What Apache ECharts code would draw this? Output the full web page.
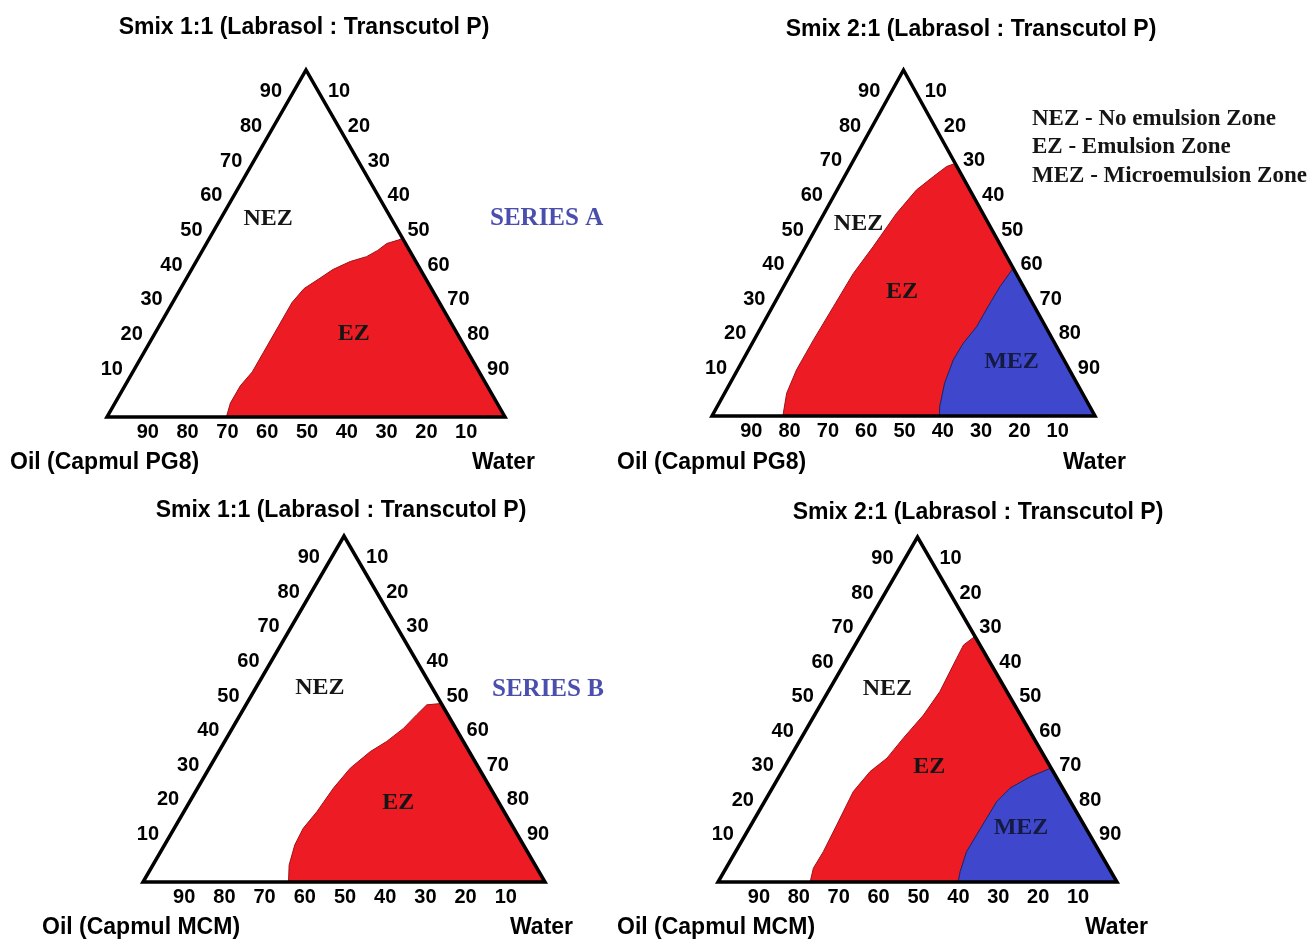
<!DOCTYPE html>
<html>
<head>
<meta charset="utf-8">
<script src="https://cdn.jsdelivr.net/npm/echarts@6/dist/echarts.min.js"></script>
<style>
  html, body { margin: 0; padding: 0; background: #fff; }
  #chart { width: 1311px; height: 940px; }
</style>
</head>
<body>
<div id="chart"></div>
<script>
// every ternary point is [oil, water, smix] in %
const tickValues = [10, 20, 30, 40, 50, 60, 70, 80, 90];
const panelTitles = ['Smix 1:1 (Labrasol : Transcutol P)', 'Smix 2:1 (Labrasol : Transcutol P)',
  'Smix 1:1 (Labrasol : Transcutol P)', 'Smix 2:1 (Labrasol : Transcutol P)'];
const oilNames = ['Oil (Capmul PG8)', 'Oil (Capmul PG8)', 'Oil (Capmul MCM)', 'Oil (Capmul MCM)'];
const seriesNames = ['SERIES A', 'SERIES B'];
const legendLines = ['NEZ - No emulsion Zone', 'EZ - Emulsion Zone', 'MEZ - Microemulsion Zone'];

// NEZ / EZ border, from the oil-water base up to the smix-water side
const ezEdgeA1 = [[70, 30, 0], [67, 29, 4], [62, 29, 9], [57, 30, 13], [51.5, 30, 18.5], [43, 30, 27],
  [37, 30, 33], [32, 31, 37], [26.5, 33.5, 40], [22, 35.5, 42.5], [16.5, 38.7, 44.8], [11.7, 42.1, 46.2],
  [8, 44, 48], [4.7, 45.3, 50], [1.3, 47.7, 51], [0, 48.5, 51.5]];
const ezEdgeA2 = [[81.5, 18.5, 0], [77.2, 16.2, 6.6], [71.3, 15.4, 13.3], [62.5, 15.5, 22], [52.5, 15.9, 31.6],
  [42.5, 16.3, 41.2], [33.5, 17.6, 48.9], [22.5, 18.9, 58.6], [14, 20.7, 65.3], [7.6, 23.2, 69.2],
  [2.7, 25.2, 72.1], [0, 27, 73]];
const ezEdgeB1 = [[63.8, 36.2, 0], [61.2, 33.9, 4.9], [56.9, 32.4, 10.7], [52.4, 32.1, 15.5], [46.6, 33.1, 20.3],
  [39.1, 33.8, 27.1], [32, 35.1, 32.9], [24.6, 37.7, 37.7], [19.1, 40.3, 40.6], [13, 42.6, 44.4],
  [7.8, 43.9, 48.3], [3.8, 45, 51.2], [0, 48.4, 51.6]];
const ezEdgeB2 = [[76.9, 23.1, 0], [74.1, 21.9, 4], [69.2, 22, 8.8], [62, 21.5, 16.5], [53, 20.8, 26.2],
  [45.9, 22.1, 32], [39.7, 24.4, 35.9], [32.7, 25.6, 41.7], [24.3, 27.3, 48.4], [16.8, 28, 55.2],
  [7.8, 27.4, 64.8], [4.1, 27.2, 68.7], [0, 28.8, 71.2]];

// EZ / MEZ border, from the smix-water side down to the base
const mezEdgeA2 = [[0, 57.3, 42.7], [6.1, 56.5, 37.4], [11.1, 56.3, 32.6], [18, 56.2, 25.8], [23.9, 55.1, 21],
  [28.9, 54.9, 16.2], [34.5, 56, 9.5], [39.2, 58.1, 2.7], [40.6, 59.4, 0]];
const mezEdgeB2 = [[0, 67, 33], [6.5, 63, 30.5], [13.2, 59.6, 27.2], [18.5, 58.2, 23.3], [23.4, 58.1, 18.5],
  [28.4, 58, 13.6], [33.3, 57.9, 8.8], [37.8, 59.2, 3], [39.8, 60.2, 0]];

// where the zone names sit
const zonesA1 = [['NEZ', [31, 12, 57]], ['EZ', [26, 50, 24]]];
const zonesA2 = [['NEZ', [34, 10.5, 55.5]], ['EZ', [32.5, 31.7, 35.8]], ['MEZ', [14, 70.4, 15.6]]];
const zonesB1 = [['NEZ', [28, 16, 56]], ['EZ', [25, 52, 23]]];
const zonesB2 = [['NEZ', [29.6, 14.5, 55.9]], ['EZ', [30.4, 36.3, 33.3]], ['MEZ', [16.2, 68.1, 15.7]]];

const WATER = [0, 100, 0];
const TRIANGLE = [[100, 0, 0], [0, 100, 0], [0, 0, 100]];
const RED = '#ed1c24', BLUE = '#3f48cc';
const SANS = '"Liberation Sans", Arial, sans-serif';
const SERIF = '"Liberation Serif", "Times New Roman", serif';

// ternary -> x/y of the triangle (oil corner at 0,0, water at 100,0, smix at 50,100)
function toXY(p) {
  return [p[1] + p[2] / 2, p[2]];
}

const panels = [
  {
    grid: { left: 107, top: 70, width: 398, height: 347 },
    regions: [{ pts: ezEdgeA1.concat([WATER]), fill: RED, stroke: '#9e1218' }],
    zones: zonesA1
  },
  {
    grid: { left: 712, top: 70, width: 383, height: 346 },
    regions: [
      { pts: ezEdgeA2.concat(mezEdgeA2), fill: RED, stroke: '#9e1218' },
      { pts: mezEdgeA2.concat([WATER]), fill: BLUE, stroke: '#1d2470' }
    ],
    zones: zonesA2
  },
  {
    grid: { left: 143, top: 536, width: 402, height: 346 },
    regions: [{ pts: ezEdgeB1.concat([WATER]), fill: RED, stroke: '#9e1218' }],
    zones: zonesB1
  },
  {
    grid: { left: 718, top: 537, width: 399, height: 345 },
    regions: [
      { pts: ezEdgeB2.concat(mezEdgeB2), fill: RED, stroke: '#9e1218' },
      { pts: mezEdgeB2.concat([WATER]), fill: BLUE, stroke: '#1d2470' }
    ],
    zones: zonesB2
  }
];

const tickItems = [];
tickValues.forEach(t => {
  tickItems.push({ value: toXY([100 - t, 0, t]), name: String(t), side: 'left' });
  tickItems.push({ value: toXY([0, t, 100 - t]), name: String(t), side: 'right' });
  tickItems.push({ value: toXY([t, 100 - t, 0]), name: String(t), side: 'bottom' });
});
const tickPlace = {
  left: { dx: -4, dy: -13, align: 'right' },
  right: { dx: 2, dy: -13, align: 'left' },
  bottom: { dx: 1, dy: 15, align: 'center' }
};

function textEl(x, y, text, font, fill, align) {
  return {
    type: 'text', x: x, y: y,
    style: { text: text, font: font, fill: fill, textAlign: align, textVerticalAlign: 'middle', align: align, verticalAlign: 'middle' }
  };
}

const grids = [], xAxes = [], yAxes = [], series = [];
panels.forEach((p, i) => {
  grids.push(p.grid);
  xAxes.push({ type: 'value', gridIndex: i, min: 0, max: 100, show: false });
  yAxes.push({ type: 'value', gridIndex: i, min: 0, max: 100, show: false });

  // coloured zones
  series.push({
    type: 'custom', xAxisIndex: i, yAxisIndex: i, silent: true,
    data: p.regions.map(r => toXY(r.pts[0])),
    renderItem: (params, api) => {
      const r = p.regions[params.dataIndex];
      return {
        type: 'polygon',
        shape: { points: r.pts.map(q => api.coord(toXY(q))) },
        style: { fill: r.fill, stroke: r.stroke, lineWidth: 1 }
      };
    }
  });
  // triangle frame
  series.push({
    type: 'custom', xAxisIndex: i, yAxisIndex: i, silent: true,
    data: [toXY(TRIANGLE[0])],
    renderItem: (params, api) => ({
      type: 'polygon',
      shape: { points: TRIANGLE.map(q => api.coord(toXY(q))) },
      style: { fill: 'none', stroke: '#000', lineWidth: 3.5, lineJoin: 'miter' }
    })
  });
  // 10..90 along the sides
  series.push({
    type: 'custom', xAxisIndex: i, yAxisIndex: i, silent: true,
    data: tickItems.map(d => d.value),
    renderItem: (params, api) => {
      const d = tickItems[params.dataIndex];
      const pt = api.coord([api.value(0), api.value(1)]);
      const k = tickPlace[d.side];
      return textEl(pt[0] + k.dx, pt[1] + k.dy, d.name, 'bold 20px ' + SANS, '#000', k.align);
    }
  });
  // NEZ / EZ / MEZ
  series.push({
    type: 'custom', xAxisIndex: i, yAxisIndex: i, silent: true,
    data: p.zones.map(z => toXY(z[1])),
    renderItem: (params, api) => {
      const z = p.zones[params.dataIndex];
      const pt = api.coord([api.value(0), api.value(1)]);
      return textEl(pt[0], pt[1], z[0], 'bold 24px ' + SERIF, z[0] === 'MEZ' ? '#141a40' : '#151515', 'center');
    }
  });
});

const titlePos = [[304, 28], [971, 30], [341, 511], [978, 513]];
const cornerPos = [[10, 472, 463], [617, 1063, 463], [42, 510, 928], [617, 1085, 928]];
const graphics = [];
panelTitles.forEach((t, i) => {
  graphics.push(textEl(titlePos[i][0], titlePos[i][1], t, 'bold 23px ' + SANS, '#000', 'center'));
  graphics.push(textEl(cornerPos[i][0], cornerPos[i][2], oilNames[i], 'bold 23px ' + SANS, '#000', 'left'));
  graphics.push(textEl(cornerPos[i][1], cornerPos[i][2], 'Water', 'bold 23px ' + SANS, '#000', 'left'));
});
graphics.push(textEl(490, 219, seriesNames[0], 'bold 25px ' + SERIF, '#4a4fae', 'left'));
graphics.push(textEl(492, 690, seriesNames[1], 'bold 25px ' + SERIF, '#4a4fae', 'left'));
legendLines.forEach((t, i) => {
  graphics.push(textEl(1032, 119 + i * 28.5, t, 'bold 23px ' + SERIF, '#151515', 'left'));
});

const chart = echarts.init(document.getElementById('chart'));
chart.setOption({
  animation: false,
  backgroundColor: '#fff',
  grid: grids,
  xAxis: xAxes,
  yAxis: yAxes,
  graphic: graphics,
  series: series
});
</script>
</body>
</html>
